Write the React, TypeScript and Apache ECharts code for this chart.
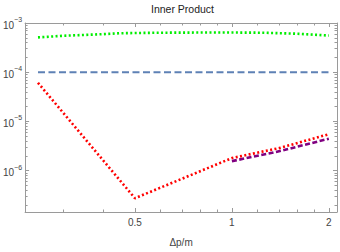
import React, { useEffect, useRef } from "react";
import * as echarts from "echarts";

const greenX = [0.25, 0.3, 0.39, 0.45, 0.6, 0.8, 1.0, 1.25, 1.6, 2.0];
const greenY = [5.1e-4, 5.5e-4, 5.9e-4, 6.2e-4, 6.35e-4, 6.4e-4, 6.4e-4, 6.35e-4, 6.05e-4, 5.57e-4];
const blueX = [0.25, 2.0];
const blueY = [1e-4, 1e-4];
const redX = [0.25, 0.5, 1.0, 1.41, 2.0];
const redY = [6.1e-5, 2.75e-7, 1.8e-6, 2.9e-6, 5.5e-6];
const purpleX = [1.0, 1.41, 2.0];
const purpleY = [1.56e-6, 2.5e-6, 4.45e-6];

const xMajor = [0.5, 1, 2];
const xMinor = [0.3, 0.4, 0.6, 0.7, 0.8, 0.9, 1.2, 1.4, 1.6, 1.8];
const yMajor = [1e-6, 1e-5, 1e-4, 1e-3];
const yMinorMult = [2, 3, 4, 5, 6, 7, 8, 9];
const yMinorDecades = [-7, -6, -5, -4];

const X_MIN = 0.228;
const X_MAX = 2.12;
const Y_MIN = 1.445e-7;
const Y_MAX = 1e-3;

const FRAME = "#9a9a9a";
const LABEL = "#444";
const FONT = "'Liberation Sans', Arial, sans-serif";

export default function App() {
  const ref = useRef<HTMLDivElement>(null);
  useEffect(() => {
    if (!ref.current) return;
    const chart = echarts.init(ref.current, null, { renderer: "svg" });
    const yMinor: number[] = [];
    yMinorDecades.forEach((d) =>
      yMinorMult.forEach((m) => {
        const v = m * Math.pow(10, d);
        if (v > Y_MIN && v < Y_MAX) yMinor.push(v);
      })
    );
    const pairs = (xs: number[], ys: number[]) => xs.map((x, i) => [x, ys[i]]);
    const xBase = (position: string, ticks: number[], len: number, showLine: boolean, labels: boolean) => ({
      type: "log",
      logBase: 2,
      min: X_MIN,
      max: X_MAX,
      position,
      axisLine: { show: showLine, lineStyle: { color: FRAME, width: 1 } },
      axisTick: { show: true, inside: true, length: len, customValues: ticks, lineStyle: { color: FRAME, width: 1 } },
      axisLabel: labels
        ? {
            show: true,
            customValues: ticks,
            margin: 5,
            color: LABEL,
            fontSize: 10,
            fontFamily: FONT,
            formatter: (v: number) => String(Math.round(v * 10) / 10),
          }
        : { show: false },
      splitLine: { show: false },
      minorTick: { show: false },
    });
    const yBase = (position: string, ticks: number[], len: number, showLine: boolean, labels: boolean) => ({
      type: "log",
      logBase: 10,
      min: Y_MIN,
      max: Y_MAX,
      position,
      axisLine: { show: showLine, lineStyle: { color: FRAME, width: 1 } },
      axisTick: { show: true, inside: true, length: len, customValues: ticks, lineStyle: { color: FRAME, width: 1 } },
      axisLabel: labels
        ? {
            show: true,
            customValues: ticks,
            margin: 3,
            color: LABEL,
            fontFamily: FONT,
            formatter: (v: number) => {
              const e = Math.round(Math.log10(v));
              return "{b|10}{s|\u2212" + Math.abs(e) + "}";
            },
            rich: {
              b: { fontSize: 10, fontFamily: FONT, color: LABEL, verticalAlign: "bottom", lineHeight: 14 },
              s: { fontSize: 7, fontFamily: FONT, color: LABEL, verticalAlign: "top", lineHeight: 14 },
            },
          }
        : { show: false },
      splitLine: { show: false },
      minorTick: { show: false },
    });
    const dotted = [2, 2.4];
    chart.setOption({
      animation: false,
      title: {
        text: "Inner Product",
        left: 151,
        top: 3,
        padding: 0,
        textStyle: { fontSize: 10.5, fontWeight: "normal", color: "#222", fontFamily: FONT },
      },
      grid: { left: 25, right: 3, top: 23, bottom: 37, containLabel: false },
      xAxis: [
        {
          ...xBase("bottom", xMajor, 4, true, true),
          name: "\u0394p/m",
          nameLocation: "middle",
          nameGap: 25,
          nameTextStyle: { fontSize: 10, color: LABEL, fontFamily: FONT },
        },
        xBase("bottom", xMinor, 2.5, false, false),
        xBase("top", xMajor, 4, true, false),
        xBase("top", xMinor, 2.5, false, false),
      ],
      yAxis: [
        yBase("left", yMajor, 4, true, true),
        yBase("left", yMinor, 2.5, false, false),
        yBase("right", yMajor, 4, true, false),
        yBase("right", yMinor, 2.5, false, false),
      ],
      series: [
        {
          type: "line",
          data: pairs(greenX, greenY),
          showSymbol: false,
          lineStyle: { color: "#00ee00", width: 2.6, type: dotted, cap: "butt" },
          z: 3,
        },
        {
          type: "line",
          data: pairs(blueX, blueY),
          showSymbol: false,
          lineStyle: { color: "#5e81b5", width: 2, type: [7, 3.5], cap: "butt" },
          z: 3,
        },
        {
          type: "line",
          data: pairs(purpleX, purpleY),
          showSymbol: false,
          lineStyle: { color: "#800080", width: 2.6, type: [5, 2.5], cap: "butt" },
          z: 3,
        },
        {
          type: "line",
          data: pairs(redX, redY),
          showSymbol: false,
          lineStyle: { color: "#ff0000", width: 2.6, type: dotted, cap: "butt" },
          z: 4,
        },
      ],
    });
    return () => chart.dispose();
  }, []);
  return <div ref={ref} style={{ width: 340, height: 252, position: "absolute", left: 0, top: 0 }} />;
}
